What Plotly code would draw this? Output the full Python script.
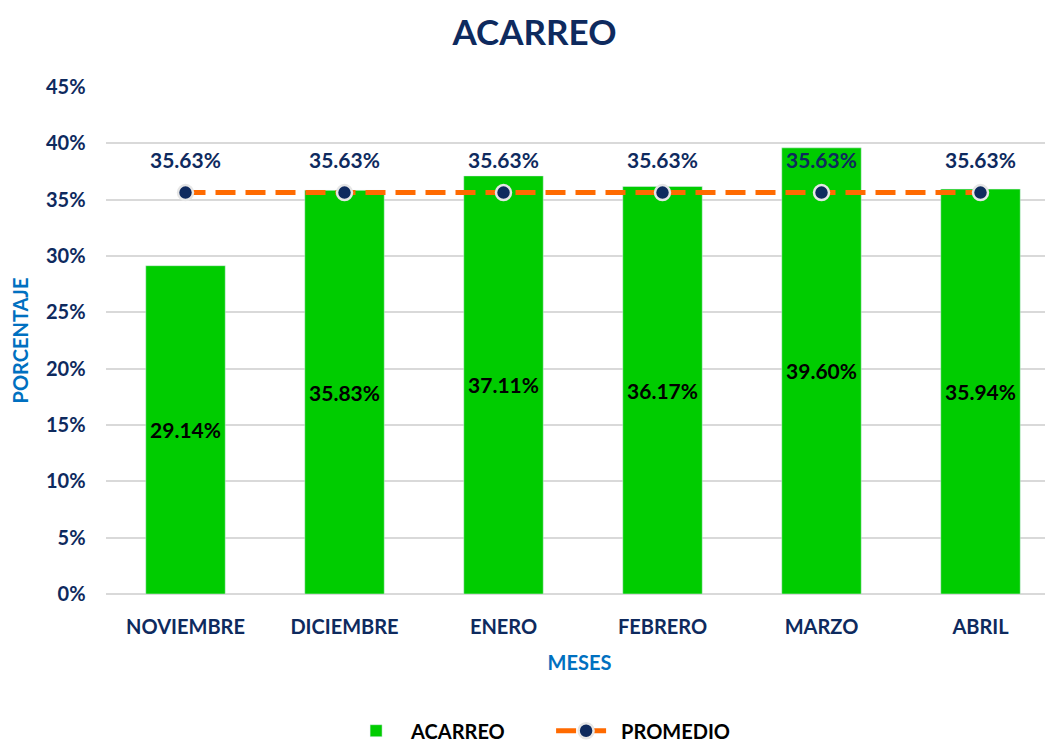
import plotly.graph_objects as go

months = ["NOVIEMBRE", "DICIEMBRE", "ENERO", "FEBRERO", "MARZO", "ABRIL"]
acarreo = [29.14, 35.83, 37.11, 36.17, 39.60, 35.94]
promedio = [35.63, 35.63, 35.63, 35.63, 35.63, 35.63]

FONT = "Lato"
NAVY = "#0e2a5e"
BLUE = "#0070C0"

fig = go.Figure()
fig.add_trace(go.Bar(
    x=months, y=[v / 100 for v in acarreo], name="ACARREO",
    marker_color="#00CC00",
    text=[f"{v:.2f}%" for v in acarreo], textposition="inside",
    insidetextanchor="middle",
    textfont=dict(family=FONT, size=21, color="black", weight="bold"),
))
fig.add_trace(go.Scatter(
    x=months, y=[v / 100 for v in promedio], name="PROMEDIO",
    mode="lines+markers",
    line=dict(color="#FF6A00", width=5, dash="20px,10px"),
    marker=dict(color=NAVY, size=15, line=dict(color="#E6E6E6", width=2.5)),
))
for m, v in zip(months, promedio):
    fig.add_annotation(x=m, y=v / 100, text=f"<b>{v:.2f}%</b>", showarrow=False,
                       yshift=33, yanchor="middle",
                       font=dict(family=FONT, size=21, color=NAVY))

fig.update_layout(
    width=1053, height=742,
    margin=dict(l=98, r=8, t=79, b=156, autoexpand=False),
    plot_bgcolor="white", paper_bgcolor="white",
    bargap=0.5,
    title=dict(text="<b>ACARREO</b>", x=0.5, xanchor="center", y=0.966, yanchor="middle",
               font=dict(family=FONT, size=35, color=NAVY)),
    font=dict(family=FONT, color=NAVY),
    legend=dict(orientation="h", x=0.47, xanchor="center", yref="container", y=0.026,
                yanchor="middle",
                font=dict(family=FONT, size=20, color="black", weight="bold"),
                itemwidth=60, entrywidth=135),
    showlegend=True,
)
fig.update_xaxes(
    range=[-0.5, 5.456], automargin=False,
    tickfont=dict(family=FONT, size=20, color=NAVY, weight="bold"),
    ticklabelstandoff=19,
    title=dict(text="<b>MESES</b>", font=dict(family=FONT, size=20, color=BLUE), standoff=18),
    showgrid=False, ticks="", showline=False,
)
fig.update_yaxes(
    range=[0, 0.45], dtick=0.05, tickformat=".0%", automargin=False,
    tickfont=dict(family=FONT, size=20, color=NAVY, weight="bold"),
    title=dict(text="<b>PORCENTAJE</b>", font=dict(family=FONT, size=20, color=BLUE), standoff=14),
    showgrid=True, gridcolor="#D9D9D9", gridwidth=1.5,
    zeroline=True, zerolinecolor="#D9D9D9", zerolinewidth=1.5,
    ticksuffix="    ",
)

fig.write_html("out.html")
